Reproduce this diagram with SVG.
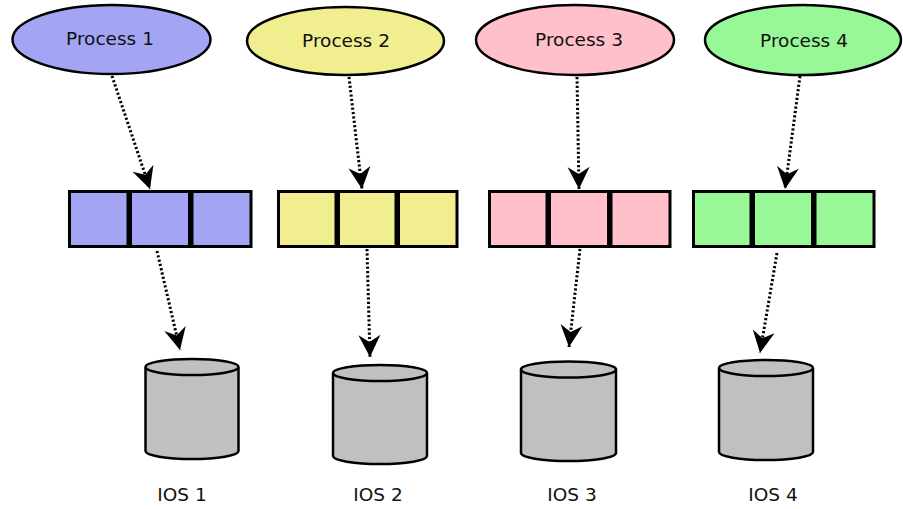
<svg xmlns="http://www.w3.org/2000/svg" width="903" height="509" viewBox="0 0 903 509">
<defs>
<style>
.proc{stroke:#000;stroke-width:2.5}
.cell{stroke:#000;stroke-width:3}
.cyl{fill:#c0c0c0;stroke:#000;stroke-width:2.5}
.lbl{font-family:"DejaVu Sans",sans-serif;font-size:18.5px;fill:#111;text-anchor:middle}
.edge{fill:none;stroke:#000;stroke-width:3;stroke-dasharray:2.2 2.2;marker-end:url(#ah)}
.blue{fill:#a4a4f4}.yellow{fill:#f0ee8e}.pink{fill:#ffc0cb}.green{fill:#98f898}
</style>
<marker id="ah" markerUnits="userSpaceOnUse" viewBox="-24 -12 25 24" refX="0" refY="0" markerWidth="25" markerHeight="24" orient="auto">
<path d="M0,0 L-22,-11 L-15,0 L-22,11 Z" fill="#000"/>
</marker>
</defs>
<g id="process1"><ellipse class="proc blue" cx="111.5" cy="39.5" rx="99" ry="34.5"/><text class="lbl" x="110" y="45">Process 1</text></g>
<g id="process2"><ellipse class="proc yellow" cx="345.5" cy="41" rx="98.5" ry="34"/><text class="lbl" x="346" y="47">Process 2</text></g>
<g id="process3"><ellipse class="proc pink" cx="575" cy="40" rx="99" ry="35"/><text class="lbl" x="579" y="46">Process 3</text></g>
<g id="process4"><ellipse class="proc green" cx="803" cy="40" rx="98" ry="35"/><text class="lbl" x="804" y="47">Process 4</text></g>
<g id="queue1"><rect class="cell blue" x="69.5" y="191.5" width="58.5" height="55"/><rect class="cell blue" x="130.5" y="191.5" width="59" height="55"/><rect class="cell blue" x="192" y="191.5" width="59" height="55"/></g>
<g id="queue2"><rect class="cell yellow" x="278.5" y="191.5" width="57.5" height="55"/><rect class="cell yellow" x="338.5" y="191.5" width="57.5" height="55"/><rect class="cell yellow" x="398.5" y="191.5" width="58.5" height="55"/></g>
<g id="queue3"><rect class="cell pink" x="489.5" y="191.5" width="57.5" height="55"/><rect class="cell pink" x="549.5" y="191.5" width="59" height="55"/><rect class="cell pink" x="611" y="191.5" width="59" height="55"/></g>
<g id="queue4"><rect class="cell green" x="693.5" y="191.5" width="57.5" height="55"/><rect class="cell green" x="753.5" y="191.5" width="59" height="55"/><rect class="cell green" x="815" y="191.5" width="59" height="55"/></g>
<g id="ios1"><path class="cyl" d="M145.5,367 L145.5,451 A46.5,8 0 0 0 238.5,451 L238.5,367"/><ellipse class="cyl" cx="192" cy="367" rx="46.5" ry="8"/><text class="lbl" x="182" y="501">IOS 1</text></g>
<g id="ios2"><path class="cyl" d="M333,373 L333,456 A47,8 0 0 0 427,456 L427,373"/><ellipse class="cyl" cx="380" cy="373" rx="47" ry="8"/><text class="lbl" x="378" y="501">IOS 2</text></g>
<g id="ios3"><path class="cyl" d="M521,369.5 L521,453 A47.5,8 0 0 0 616,453 L616,369.5"/><ellipse class="cyl" cx="568.5" cy="369.5" rx="47.5" ry="8"/><text class="lbl" x="572" y="501">IOS 3</text></g>
<g id="ios4"><path class="cyl" d="M719,368 L719,452 A47,8 0 0 0 813,452 L813,368"/><ellipse class="cyl" cx="766" cy="368" rx="47" ry="8"/><text class="lbl" x="773" y="501">IOS 4</text></g>
<g id="connectors">
<line class="edge" x1="112" y1="76" x2="150" y2="189"/>
<line class="edge" x1="349" y1="77" x2="362" y2="189"/>
<line class="edge" x1="577" y1="77" x2="579" y2="189"/>
<line class="edge" x1="800" y1="76" x2="785" y2="189"/>
<line class="edge" x1="157" y1="251" x2="180" y2="350"/>
<line class="edge" x1="367" y1="249" x2="370" y2="357"/>
<line class="edge" x1="580" y1="249" x2="569" y2="347"/>
<line class="edge" x1="777" y1="253" x2="760" y2="353"/>
</g>
</svg>
